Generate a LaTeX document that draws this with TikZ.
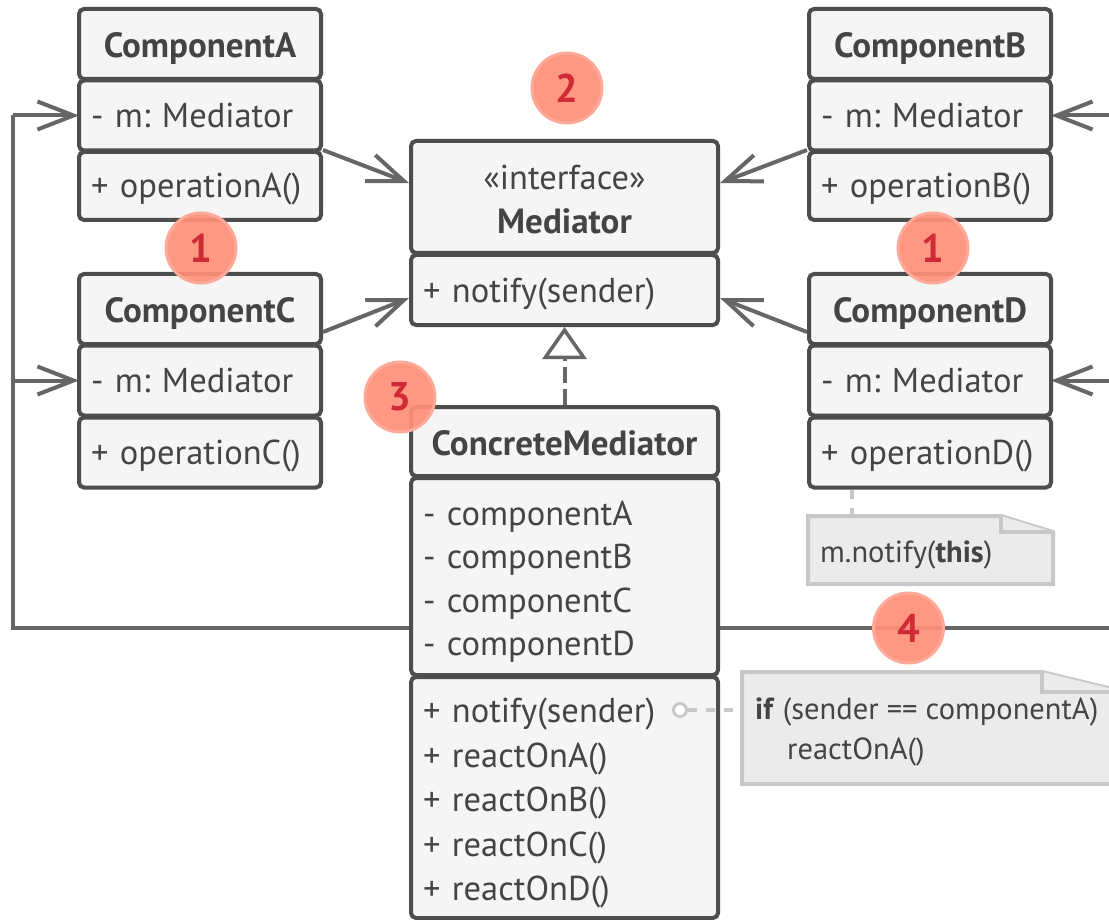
\documentclass[tikz,border=0pt]{standalone}
\usepackage{fontspec}
\setmainfont{PT Sans}
\usetikzlibrary{arrows.meta,calc}
\definecolor{boxc}{HTML}{4D4D4D}
\definecolor{boxfill}{HTML}{F5F5F5}
\definecolor{linec}{HTML}{666666}
\definecolor{txt}{HTML}{444444}
\definecolor{notefill}{HTML}{EBEBEB}
\definecolor{notec}{HTML}{C8C8C8}
\definecolor{badgefill}{HTML}{FF9079}
\definecolor{badgeedge}{HTML}{FFAA98}
\definecolor{badgetxt}{HTML}{D02A36}
\frenchspacing
\begin{document}
\begin{tikzpicture}[x=1pt,y=-1pt,
  cell/.style={draw=boxc, fill=boxfill, line width=4pt, rounded corners=5pt, inner sep=0pt, text=txt, font=\fontsize{34.5}{43.5}\selectfont},
  one/.style={text height=24pt, text depth=0pt},
  hdr/.style={cell, text height=28pt, text depth=0pt, font=\fontsize{35}{40}\selectfont\bfseries},
  lcell/.style={cell, align=left, inner xsep=12pt},
  conn/.style={draw=linec, line width=4pt},
  vee/.style={conn, -{Straight Barb[length=36pt, width=28pt]}},
  notebox/.style={draw=notec, fill=notefill, line width=4pt},
  notetext/.style={text=txt, font=\fontsize{30.5}{34}\selectfont, inner sep=0pt},
  notedash/.style={draw=notec, line width=4pt, dash pattern=on 9pt off 9pt},
  badge/.style={circle, minimum size=70pt, inner sep=0pt, fill=badgefill, draw=badgeedge, line width=3pt, text=badgetxt, font=\fontsize{40}{40}\selectfont\bfseries, fill opacity=0.92, text opacity=1}
]
\fill[white] (0,0) rectangle (1109,920);
\clip (0,0) rectangle (1109,920);

% ---- coordinates for buses and notes
\coordinate (busL) at (411,628);
\coordinate (busR) at (718,628);
\coordinate (cornerL) at (13,628);
\coordinate (jA) at (13,115.5);
\coordinate (jC) at (13,380.5);
\coordinate (endR) at (1125,628);
\coordinate (jB) at (1125,115.5);
\coordinate (jD) at (1125,380.5);
\coordinate (N1top) at (852,516);
\coordinate (N2left) at (742,710);

% ---- bus connectors
\draw[conn] (busL) -- (cornerL) -- (jA);
\draw[vee] (jA) -- (79,115.5) coordinate (Aarr);
\draw[vee] (jC) -- (79,380.5) coordinate (Carr);
\draw[conn] (busR) -- (endR);
\draw[vee] (jB) -- (1051,115.5) coordinate (Barr);
\draw[vee] (jD) -- (1051,380.5) coordinate (Darr);

% ---- ComponentA
\node[hdr, minimum width=242pt, minimum height=70pt] (Ah) at (200,44) {ComponentA};
\node[lcell, one, text width=218pt, minimum height=70pt] (Aa) at (200,115.5) {- m: Mediator};
\node[lcell, one, text width=218pt, minimum height=68pt] (Am) at (200,186) {+ operationA()};
% ---- ComponentC
\node[hdr, minimum width=242pt, minimum height=70pt] (Ch) at (200,309) {ComponentC};
\node[lcell, one, text width=218pt, minimum height=70pt] (Ca) at (200,380.5) {- m: Mediator};
\node[lcell, one, text width=218pt, minimum height=70pt] (Cm) at (200,452.5) {+ operationC()};
% ---- ComponentB
\node[hdr, minimum width=242pt, minimum height=70pt] (Bh) at (930,44) {ComponentB};
\node[lcell, one, text width=218pt, minimum height=70pt] (Ba) at (930,115.5) {- m: Mediator};
\node[lcell, one, text width=218pt, minimum height=68pt] (Bm) at (930,186) {+ operationB()};
% ---- ComponentD
\node[hdr, minimum width=242pt, minimum height=70pt] (Dh) at (930,309) {ComponentD};
\node[lcell, one, text width=218pt, minimum height=70pt] (Da) at (930,380.5) {- m: Mediator};
\node[lcell, one, text width=218pt, minimum height=70pt] (Dm) at (930,452.5) {+ operationD()};

% ---- Mediator
\node[cell, align=center, minimum width=307pt, minimum height=112pt, font=\fontsize{34.5}{44}\selectfont] (Mh) at (564.5,197) {\rule{0pt}{29pt}«interface»\\\textbf{\fontsize{35}{44}\selectfont Mediator}};
\node[lcell, one, text width=283pt, minimum height=70pt] (Mm) at (564.5,290) {+ notify(sender)};

% ---- ConcreteMediator
\node[hdr, minimum width=307pt, minimum height=69pt] (CMh) at (564.5,441.5) {ConcreteMediator};
\node[lcell, text width=283pt, minimum height=197pt] (CMa) at (564.5,576.5) {\rule{0pt}{35pt}- componentA\\- componentB\\- componentC\\- componentD};
\node[lcell, text width=283pt, minimum height=241pt, font=\fontsize{34.5}{44.5}\selectfont] (CMm) at (564.5,797.5) {\rule{0pt}{36pt}+ notify(sender)\\+ reactOnA()\\+ reactOnB()\\+ reactOnC()\\+ reactOnD()};

% ---- associations to Mediator
\draw[vee] (Am.north east) -- ($(Mh.west)+(0,-14)$);
\draw[vee] ($(Ch.east)+(0,23)$) -- ($(Mm.west)+(0,8)$);
\draw[vee] (Bm.north west) -- ($(Mh.east)+(0,-14)$);
\draw[vee] ($(Dh.west)+(0,23)$) -- ($(Mm.east)+(0,8)$);

% ---- realization
\draw[conn, dash pattern=on 16pt off 6pt, -{Triangle[open, length=32pt, width=44pt, fill=white, line width=3.5pt]}] (CMh.north) -- (Mm.south);

% ---- note 1
\draw[notebox] (808,516) -- (1001,516) -- (1053,532) -- (1053,584) -- (808,584) -- cycle;
\draw[notebox, line join=miter] (1001,516) -- (1001,532) -- (1053,532);
\node[notetext, anchor=base west] (N1t) at (820,562) {m.notify(\textbf{this})};
\draw[notedash] (N1top |- Dm.south) -- (N1top);

% ---- note 2
\draw[notebox] (742,672) -- (1042,672) -- (1125,692) -- (1125,784) -- (742,784) -- cycle;
\draw[notebox, line join=miter] (1042,672) -- (1042,692) -- (1125,692);
\node[notetext, anchor=base west] (N2a) at (755,719) {\textbf{if} (sender == componentA)};
\node[notetext, anchor=base west] (N2b) at (787,759) {reactOnA()};
\node[circle, draw=notec, line width=3pt, fill=white, minimum size=13pt, inner sep=0pt] (dot) at (680,710) {};
\draw[notedash] (dot) -- (N2left);

% ---- badges
\node[badge] (b1L) at (201,248) {1};
\node[badge] (b1R) at (933,248) {1};
\node[badge] (b2) at (567,88) {2};
\node[badge] (b3) at (400,397) {3};
\node[badge] (b4) at (908.5,628) {4};
\end{tikzpicture}
\end{document}
